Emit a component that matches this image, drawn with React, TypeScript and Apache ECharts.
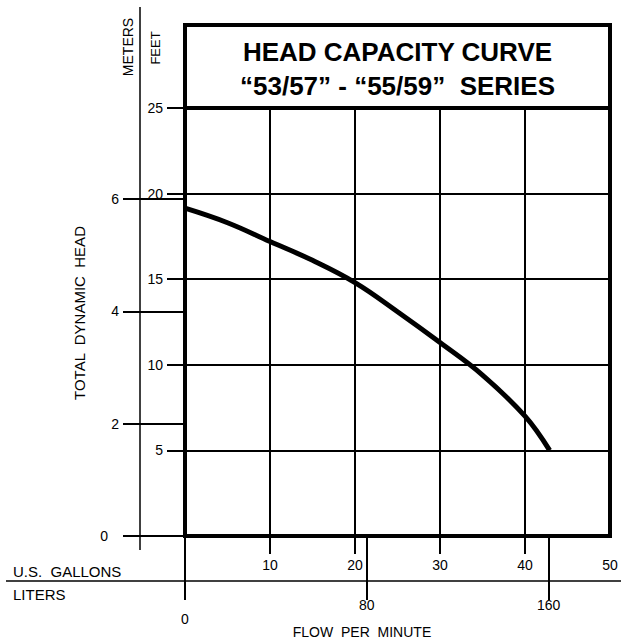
import React, { useEffect, useRef } from 'react';
import * as echarts from 'echarts';

// Data
const gallons = [0, 5, 10, 15, 20, 25, 30, 35, 40, 42.9];
const headFeet = [19.15, 18.3, 17.2, 16.1, 14.8, 13.1, 11.3, 9.4, 7.0, 5.0];

const gallonTicks = [10, 20, 30, 40];
const gallonLabels = [10, 20, 30, 40, 50];
const literTicks = [0, 80, 160];
const feetTicks = [5, 10, 15, 20, 25];
const meterTicks = [0, 2, 4, 6];

const GALLON_MAX = 50;
const LITER_MAX = 187;
const FEET_MAX = 25;
const METER_MAX = FEET_MAX / 3.28084;

const titleLine1 = 'HEAD CAPACITY CURVE';
const titleLine2 = '\u201C53/57\u201D - \u201C55/59\u201D  SERIES';

const FONT = '"Liberation Sans", Arial, Helvetica, sans-serif';

export default function App() {
  const ref = useRef<HTMLDivElement>(null);
  useEffect(() => {
    if (!ref.current) return;
    const chart = echarts.init(ref.current, undefined, { renderer: 'svg' });
    const tickStyle = { color: '#000', width: 2 };
    const labelBase = { color: '#000', fontSize: 14, fontFamily: FONT };
    chart.setOption({
      animation: false,
      backgroundColor: '#fff',
      grid: {
        left: 185,
        right: 11,
        top: 108,
        bottom: 106,
        show: true,
        borderColor: '#000',
        borderWidth: 4,
        backgroundColor: 'transparent',
      },
      xAxis: [
        {
          type: 'value',
          min: 0,
          max: GALLON_MAX,
          interval: 10,
          position: 'bottom',
          axisLine: { show: false },
          axisTick: { show: true, length: 18, lineStyle: tickStyle, customValues: gallonTicks },
          axisLabel: { ...labelBase, margin: 22, customValues: gallonLabels },
          splitLine: { show: true, lineStyle: { color: '#000', width: 2 } },
        },
        {
          type: 'value',
          min: 0,
          max: LITER_MAX,
          position: 'bottom',
          offset: 0,
          axisLine: { show: false },
          axisTick: { show: true, length: 64, lineStyle: tickStyle, customValues: literTicks },
          axisLabel: {
            ...labelBase,
            margin: 62,
            customValues: literTicks,
            formatter: (v: number) => (v === 0 ? '{z|0}' : String(v)),
            rich: { z: { padding: [14, 0, 0, 0], fontSize: 14, fontFamily: FONT, color: '#000' } },
          },
          splitLine: { show: false },
        },
      ],
      yAxis: [
        {
          type: 'value',
          min: 0,
          max: FEET_MAX,
          interval: 5,
          position: 'left',
          axisLine: { show: false },
          axisTick: { show: true, length: 18, lineStyle: tickStyle, customValues: feetTicks },
          axisLabel: { ...labelBase, margin: 22, customValues: feetTicks },
          splitLine: { show: true, lineStyle: { color: '#000', width: 2 } },
        },
        {
          type: 'value',
          min: 0,
          max: METER_MAX,
          position: 'left',
          offset: 0,
          axisLine: { show: false },
          axisTick: { show: true, length: 62, lineStyle: tickStyle, customValues: meterTicks },
          axisLabel: {
            ...labelBase,
            margin: 66,
            customValues: meterTicks,
            formatter: (v: number) => (v === 0 ? '{z|0}' : String(v)),
            rich: { z: { padding: [0, 11, 0, 0], fontSize: 14, fontFamily: FONT, color: '#000' } },
          },
          splitLine: { show: false },
        },
      ],
      series: [
        {
          type: 'line',
          xAxisIndex: 0,
          yAxisIndex: 0,
          data: gallons.map((g, i) => [g, headFeet[i]]),
          smooth: 0.4,
          symbol: 'none',
          lineStyle: { color: '#000', width: 5 },
          z: 5,
        },
      ],
      graphic: [
        {
          type: 'rect',
          shape: { x: 185, y: 25, width: 425, height: 83 },
          style: { fill: '#fff', stroke: '#000', lineWidth: 4 },
          z: 10,
        },
        {
          type: 'text',
          x: 397.5,
          y: 52,
          style: { text: titleLine1, fill: '#000', font: `bold 26px ${FONT}`, textAlign: 'center', textVerticalAlign: 'middle' },
          z: 11,
        },
        {
          type: 'text',
          x: 397.5,
          y: 86,
          style: { text: titleLine2, fill: '#000', font: `bold 26px ${FONT}`, textAlign: 'center', textVerticalAlign: 'middle' },
          z: 11,
        },
        {
          type: 'line',
          shape: { x1: 140, y1: 7, x2: 140, y2: 550 },
          style: { stroke: '#000', lineWidth: 1.5 },
        },
        {
          type: 'line',
          shape: { x1: 6, y1: 581, x2: 621, y2: 581 },
          style: { stroke: '#000', lineWidth: 1.5 },
        },
        {
          type: 'text',
          x: 128,
          y: 47,
          rotation: Math.PI / 2,
          style: { text: 'METERS', fill: '#000', font: `14px ${FONT}`, textAlign: 'center', textVerticalAlign: 'middle' },
        },
        {
          type: 'text',
          x: 155,
          y: 48,
          rotation: Math.PI / 2,
          style: { text: 'FEET', fill: '#000', font: `13px ${FONT}`, textAlign: 'center', textVerticalAlign: 'middle' },
        },
        {
          type: 'text',
          x: 79,
          y: 313,
          rotation: Math.PI / 2,
          style: { text: 'TOTAL  DYNAMIC  HEAD', fill: '#000', font: `15px ${FONT}`, textAlign: 'center', textVerticalAlign: 'middle' },
        },
        {
          type: 'text',
          x: 13,
          y: 571,
          style: { text: 'U.S.  GALLONS', fill: '#000', font: `15px ${FONT}`, textAlign: 'left', textVerticalAlign: 'middle' },
        },
        {
          type: 'text',
          x: 13,
          y: 594,
          style: { text: 'LITERS', fill: '#000', font: `15px ${FONT}`, textAlign: 'left', textVerticalAlign: 'middle' },
        },
        {
          type: 'text',
          x: 362,
          y: 632,
          style: { text: 'FLOW  PER  MINUTE', fill: '#000', font: `14px ${FONT}`, textAlign: 'center', textVerticalAlign: 'middle' },
        },
      ],
    });
    return () => chart.dispose();
  }, []);
  return <div ref={ref} style={{ position: 'absolute', left: 0, top: 0, width: 621, height: 642 }} />;
}
